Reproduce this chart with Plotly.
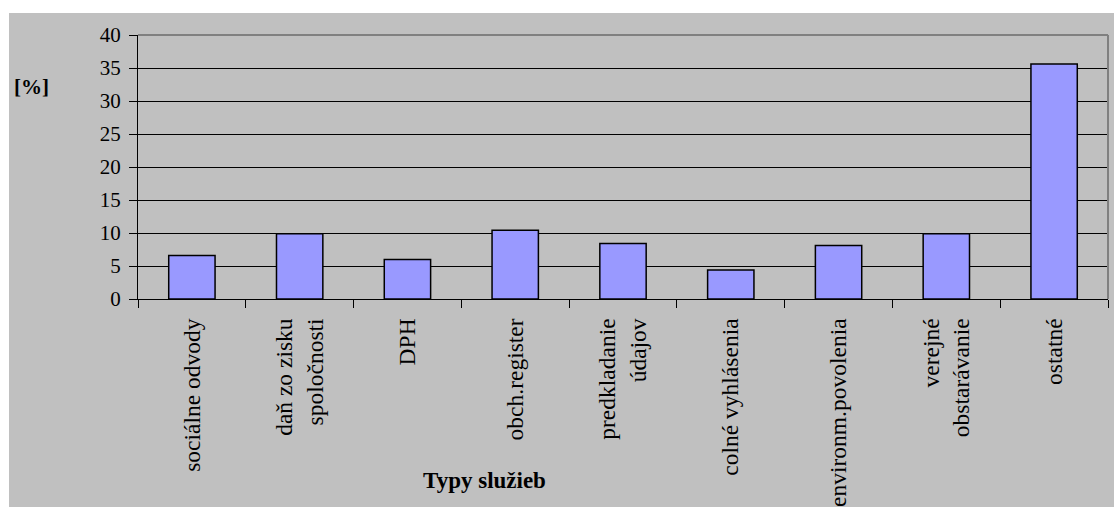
import plotly.graph_objects as go

categories = [
    "sociálne odvody",
    "daň zo zisku<br>spoločnosti",
    "DPH",
    "obch.register",
    "predkladanie<br>údajov",
    "colné vyhlásenia",
    "environm.povolenia",
    "verejné<br>obstarávanie",
    "ostatné",
]
values = [6.6, 9.9, 6.0, 10.4, 8.4, 4.4, 8.1, 9.9, 35.6]
y_ticks = [0, 5, 10, 15, 20, 25, 30, 35, 40]
y_title = "[%]"
x_title = "Typy služieb"

W, H = 1114, 507
L, R, T, B = 138, 6, 35, 208
pw, ph = W - L - R, H - T - B

def px(x):
    return (x - L) / pw

def py(y):
    return (H - B - y) / ph

FONT = "Liberation Serif, Times New Roman, serif"

fig = go.Figure(
    go.Bar(
        x=categories,
        y=values,
        marker=dict(color="#9999FF", line=dict(color="black", width=1.5)),
    )
)

fig.update_layout(
    width=W,
    height=H,
    margin=dict(l=L, r=R, t=T, b=B, autoexpand=False),
    paper_bgcolor="white",
    plot_bgcolor="#C0C0C0",
    bargap=0.57,
    showlegend=False,
    font=dict(family=FONT, color="black"),
    shapes=[
        dict(type="rect", xref="paper", yref="paper", layer="below",
             x0=px(9), x1=px(W + 5), y0=py(H + 5), y1=py(13),
             fillcolor="#C0C0C0", line=dict(width=0)),
        dict(type="line", xref="paper", yref="paper", layer="above",
             x0=0, x1=1, y0=1, y1=1, line=dict(color="#808080", width=2)),
        dict(type="line", xref="paper", yref="paper", layer="above",
             x0=1, x1=1, y0=0, y1=1, line=dict(color="#808080", width=2)),
    ],
    annotations=[
        dict(text="<b>" + y_title + "</b>", xref="paper", yref="paper",
             x=px(31), y=py(87), xanchor="center", yanchor="middle",
             showarrow=False,
             font=dict(family=FONT, size=21, color="black")),
        dict(text="<b>" + x_title + "</b>", xref="paper", yref="paper",
             x=px(484), y=py(480), xanchor="center", yanchor="middle",
             showarrow=False,
             font=dict(family=FONT, size=23, color="black")),
    ],
)

fig.update_xaxes(
    type="category",
    tickangle=-90,
    tickson="boundaries",
    ticks="outside",
    ticklen=8,
    tickcolor="black",
    tickwidth=1,
    showline=True,
    linecolor="black",
    linewidth=1,
    showgrid=False,
    automargin=False,
    ticklabelstandoff=9,
    tickfont=dict(family=FONT, size=23.5, color="black"),
)

fig.update_yaxes(
    range=[0, 40],
    tickvals=y_ticks,
    ticks="outside",
    ticklen=8,
    tickcolor="black",
    tickwidth=1,
    showline=True,
    linecolor="black",
    linewidth=1,
    showgrid=True,
    gridcolor="black",
    gridwidth=1,
    zeroline=False,
    automargin=False,
    ticklabelstandoff=4,
    tickfont=dict(family=FONT, size=21, color="black"),
)

fig.write_html("out.html")
